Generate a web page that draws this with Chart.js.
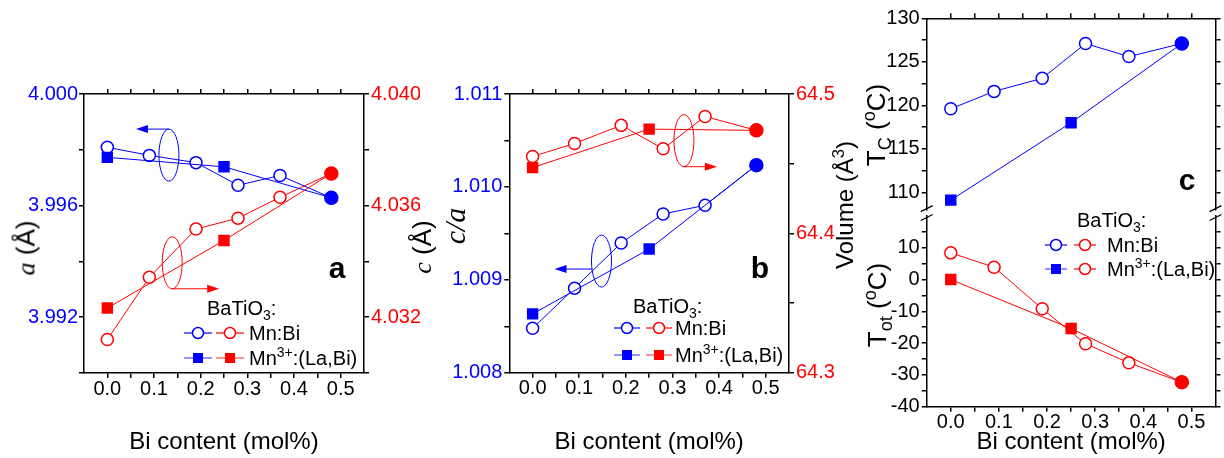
<!DOCTYPE html>
<html>
<head>
<meta charset="utf-8">
<title>BaTiO3: lattice parameters and transition temperatures vs Bi content</title>
<script src="https://cdn.jsdelivr.net/npm/chart.js@4.4.1/dist/chart.umd.min.js"></script>
<style>
  body { margin: 0; width: 1224px; height: 458px; background: #fff; position: relative; overflow: hidden;
         font-family: "Liberation Sans", Arial, sans-serif; color: #000; }
  canvas { position: absolute; top: 0; }
  .txt { position: absolute; white-space: nowrap; line-height: 1; }
  .rot { transform: translate(-50%, -50%) rotate(-90deg); }
  .ctr { transform: translate(0, -50%); }
  .it { font-family: "Liberation Serif", "Times New Roman", serif; font-style: italic; }
  .lbl { font-weight: bold; font-size: 30px; transform: translate(-50%, -50%); }
  .leg { font-size: 20px; }
  sub, sup { font-size: 70%; line-height: 0; }
</style>
</head>
<body>
<canvas id="cA" width="420" height="458" style="left:0"></canvas>
<canvas id="cB" width="420" height="458" style="left:420px"></canvas>
<canvas id="cC1" width="384" height="458" style="left:840px"></canvas>
<canvas id="cC2" width="384" height="458" style="left:840px"></canvas>

<!-- axis titles -->
<div class="txt rot" style="left:26px;top:248px;font-size:26px"><span class="it">a</span> (Å)</div>
<div class="txt rot" style="left:422px;top:247px;font-size:26px"><span class="it">c</span> (Å)</div>
<div class="txt rot it" style="left:455px;top:226px;font-size:30px">c/a</div>
<div class="txt rot" style="left:845px;top:205px;font-size:24px">Volume (Å<sup>3</sup>)</div>
<div class="txt rot" style="left:876px;top:125px;font-size:26px">T<sub>C</sub> (<sup>o</sup>C)</div>
<div class="txt rot" style="left:877px;top:305px;font-size:26px">T<sub>ot</sub> (<sup>o</sup>C)</div>

<!-- panel letters -->
<div class="txt lbl" style="left:337px;top:268px">a</div>
<div class="txt lbl" style="left:760px;top:268px">b</div>
<div class="txt lbl" style="left:1187px;top:180px">c</div>

<script>
const BLUE = "#0000ff";
const RED = "#ff0000";
const FONT = '"Liberation Sans", Arial, sans-serif';

// ── Data ────────────────────────────────────────────────────
const biMn = [0, 0.09, 0.19, 0.28, 0.37, 0.48];   // Mn:Bi compositions
const biLa = [0, 0.25, 0.48];                     // Mn3+:(La,Bi) compositions

const aMnBi = [3.99809, 3.99780, 3.99754, 3.99673, 3.99708, 3.99628];
const aLaBi = [3.99773, 3.99739, 3.99628];
const cMnBi = [4.03120, 4.03343, 4.03516, 4.03555, 4.03630, 4.03715];
const cLaBi = [4.03233, 4.03475, 4.03715];

const caMnBi = [1.008478, 1.008910, 1.009396, 1.009709, 1.009802, 1.010234];
const caLaBi = [1.008633, 1.009331, 1.010234];
const volMnBi = [64.4552, 64.4645, 64.4775, 64.4607, 64.4839, 64.4739];
const volLaBi = [64.4472, 64.4748, 64.4739];

const tcMnBi = [119.6, 121.6, 123.1, 127.1, 125.6, 127.1];
const tcLaBi = [109.1, 118.0, 127.1];
const totMnBi = [8.4, 3.9, -9.2, -20.2, -26.2, -32.3];
const totLaBi = [0, -15.4, -32.3];

// ── Ticks ───────────────────────────────────────────────────
const xTicks = [0, 0.05, 0.1, 0.15, 0.2, 0.25, 0.3, 0.35, 0.4, 0.45, 0.5];
const xMajor = [0, 0.1, 0.2, 0.3, 0.4, 0.5];
const xLabels = ["0.0", "0.1", "0.2", "0.3", "0.4", "0.5"];

const aLTicks = [3.990, 3.992, 3.994, 3.996, 3.998, 4.000];
const aLMajor = [3.992, 3.996, 4.000];
const aLLabels = ["3.992", "3.996", "4.000"];
const aRTicks = [4.030, 4.032, 4.034, 4.036, 4.038, 4.040];
const aRMajor = [4.032, 4.036, 4.040];
const aRLabels = ["4.032", "4.036", "4.040"];

const bLTicks = [1.008, 1.0085, 1.009, 1.0095, 1.010, 1.0105, 1.011];
const bLMajor = [1.008, 1.009, 1.010, 1.011];
const bLLabels = ["1.008", "1.009", "1.010", "1.011"];
const bRTicks = [64.30, 64.35, 64.40, 64.45, 64.50];
const bRMajor = [64.3, 64.4, 64.5];
const bRLabels = ["64.3", "64.4", "64.5"];

const tcTicks = [110, 112.5, 115, 117.5, 120, 122.5, 125, 127.5, 130];
const tcMajor = [110, 115, 120, 125, 130];
const tcLabels = ["110", "115", "120", "125", "130"];
const totTicks = [-40, -35, -30, -25, -20, -15, -10, -5, 0, 5, 10, 15];
const totMajor = [-40, -30, -20, -10, 0, 10];
const totLabels = ["-40", "-30", "-20", "-10", "0", "10"];

// ── Guide ellipses with arrows (data-space centres) ─────────
const annotA = [
  { x: 0.132, y: 3.99781, axis: "yL", color: BLUE, ax: 0, ay: -26, len: -33 },
  { x: 0.139, y: 4.03395, axis: "yR", color: RED, ax: 0, ay: 26, len: 47 },
];
const annotB = [
  { x: 0.3246, y: 64.4665, axis: "yR", color: RED, ax: 0, ay: 26, len: 33 },
  { x: 0.1478, y: 1.009202, axis: "yL", color: BLUE, ax: -9.5, ay: 8, len: -47 },
];

// ── Helpers ─────────────────────────────────────────────────
function pts(xs, ys) {
  return xs.map((x, i) => ({ x, y: ys[i] }));
}

function series(label, xs, ys, color, axis, filled) {
  return {
    label,
    data: pts(xs, ys),
    yAxisID: axis,
    showLine: true,
    borderColor: color,
    borderWidth: 1,
    pointBorderColor: color,
    pointBorderWidth: 1.5,
    pointBackgroundColor: filled ? color : "#fff",
    pointStyle: filled ? ["rect", "rect", "circle"] : "circle",
    pointRadius: filled ? [7, 7, 6.5] : 6,
  };
}

function labelFor(majors, labels) {
  return (v) => {
    const i = majors.findIndex((m) => Math.abs(m - v) < 1e-9);
    return i < 0 ? "" : labels[i];
  };
}

function axis(pos, min, max, ticks, majors, labels, color, size, pad) {
  return {
    type: "linear",
    position: pos,
    min,
    max,
    afterBuildTicks: (s) => { s.ticks = ticks.map((v) => ({ value: v })); },
    afterFit: (s) => { if (s.isHorizontal()) s.height = size; else s.width = size; },
    ticks: {
      autoSkip: false,
      maxRotation: 0,
      color,
      padding: pad,
      font: { family: FONT, size: 20, lineHeight: 1.2 },
      callback: labelFor(majors, labels),
    },
    grid: { drawOnChartArea: false, tickLength: 5, color: "#000", lineWidth: 1.5 },
    border: { color: "#000", width: 1.5 },
  };
}

function xAxis(pos, size, withLabels) {
  const a = axis(pos, -0.05, 0.55, xTicks, withLabels ? xMajor : [], xLabels, "#000", size, -1);
  if (withLabels) {
    a.title = {
      display: true,
      text: "Bi content (mol%)",
      color: "#000",
      font: { family: FONT, size: 24, lineHeight: 1.2 },
      padding: { top: 0, bottom: 1 },
    };
  }
  return a;
}

// ellipses, arrows and axis-break marks
function guides(items, breakEdge) {
  return {
    id: "guides",
    afterDatasetsDraw(chart) {
      const ctx = chart.ctx;
      items.forEach((it) => {
        const cx = chart.scales.x.getPixelForValue(it.x);
        const cy = chart.scales[it.axis].getPixelForValue(it.y);
        ctx.save();
        ctx.strokeStyle = it.color;
        ctx.fillStyle = it.color;
        ctx.lineWidth = 1;
        ctx.beginPath();
        ctx.ellipse(cx, cy, 10, 26, 0, 0, 2 * Math.PI);
        ctx.stroke();
        const sx = cx + it.ax, sy = cy + it.ay, ex = cx + it.len, dir = Math.sign(it.len);
        ctx.beginPath();
        ctx.moveTo(sx, sy);
        ctx.lineTo(ex - dir * 10, sy);
        ctx.stroke();
        ctx.beginPath();
        ctx.moveTo(ex, sy);
        ctx.lineTo(ex - dir * 12, sy - 4);
        ctx.lineTo(ex - dir * 12, sy + 4);
        ctx.closePath();
        ctx.fill();
        ctx.restore();
      });
      if (breakEdge) {
        const { left, right, top, bottom } = chart.chartArea;
        const y = breakEdge === "bottom" ? bottom - 1 : top + 1.5;
        ctx.save();
        ctx.strokeStyle = "#000";
        ctx.lineWidth = 1.3;
        [left, right].forEach((x) => {
          ctx.beginPath();
          ctx.moveTo(x - 6, y + 3);
          ctx.lineTo(x + 6, y - 3);
          ctx.stroke();
        });
        ctx.restore();
      }
    },
  };
}

function makeChart(id, datasets, scales, padding, items, breakEdge) {
  return new Chart(document.getElementById(id), {
    type: "scatter",
    data: { datasets },
    options: {
      responsive: false,
      animation: false,
      events: [],
      devicePixelRatio: 1,
      layout: { padding },
      scales,
      plugins: { legend: { display: false }, tooltip: { enabled: false } },
    },
    plugins: [guides(items, breakEdge)],
  });
}

// ── Panel a ─────────────────────────────────────────────────
makeChart("cA", [
  series("Mn3+:(La,Bi)", biLa, aLaBi, BLUE, "yL", true),
  series("Mn3+:(La,Bi)", biLa, cLaBi, RED, "yR", true),
  series("Mn:Bi", biMn, aMnBi, BLUE, "yL", false),
  series("Mn:Bi", biMn, cMnBi, RED, "yR", false),
], {
  x: xAxis("bottom", 85, true),
  xTop: xAxis("top", 94, false),
  yL: axis("left", 3.990, 4.000, aLTicks, aLMajor, aLLabels, BLUE, 84, 1),
  yR: axis("right", 4.030, 4.040, aRTicks, aRMajor, aRLabels, RED, 56, 2),
}, 0, annotA, null);

// ── Panel b ─────────────────────────────────────────────────
makeChart("cB", [
  series("Mn3+:(La,Bi)", biLa, caLaBi, BLUE, "yL", true),
  series("Mn3+:(La,Bi)", biLa, volLaBi, RED, "yR", true),
  series("Mn:Bi", biMn, caMnBi, BLUE, "yL", false),
  series("Mn:Bi", biMn, volMnBi, RED, "yR", false),
], {
  x: xAxis("bottom", 85.3, true),
  xTop: xAxis("top", 94, false),
  yL: axis("left", 1.008, 1.011, bLTicks, bLMajor, bLLabels, BLUE, 89.3, 2),
  yR: axis("right", 64.3, 64.5, bRTicks, bRMajor, bRLabels, RED, 51, 2),
}, 0, annotB, null);

// ── Panel c (broken axis: Tc on top, Tot below) ─────────────
makeChart("cC1", [
  series("Mn3+:(La,Bi)", biLa, tcLaBi, BLUE, "yL", true),
  series("Mn:Bi", biMn, tcMnBi, BLUE, "yL", false),
], {
  x: xAxis("top", 18.3, false),
  yL: axis("left", 108, 130, tcTicks, tcMajor, tcLabels, "#000", 86.7, 2),
  yR: axis("right", 108, 130, tcTicks, [], [], "#000", 3, 2),
}, { bottom: 248.3 }, [], "bottom");

makeChart("cC2", [
  series("Mn3+:(La,Bi)", biLa, totLaBi, RED, "yL", true),
  series("Mn:Bi", biMn, totMnBi, RED, "yL", false),
], {
  x: xAxis("bottom", 51.3, true),
  yL: axis("left", -40, 20, totTicks, totMajor, totLabels, "#000", 86.7, 2),
  yR: axis("right", -40, 20, totTicks, [], [], "#000", 3, 2),
}, { top: 216 }, [], "top");

// ── Legends ─────────────────────────────────────────────────
const OPEN_C = (color) => ({ shape: "circle", color, fill: false });
const FILL_R = (color) => ({ shape: "rect", color, fill: true });

const legendRowsAB = [
  { text: "Mn:Bi", marks: [OPEN_C(BLUE), OPEN_C(RED)] },
  { text: "Mn<sup>3+</sup>:(La,Bi)", marks: [FILL_R(BLUE), FILL_R(RED)] },
];
const legendRowsC = [
  { text: "Mn:Bi", marks: [OPEN_C(BLUE), OPEN_C(RED)] },
  { text: "Mn<sup>3+</sup>:(La,Bi)", marks: [FILL_R(BLUE), OPEN_C(RED)] },
];

function addDiv(cls, left, top, html) {
  const d = document.createElement("div");
  d.className = cls;
  d.style.left = left + "px";
  d.style.top = top + "px";
  d.innerHTML = html;
  document.body.appendChild(d);
  return d;
}

function legend(L) {
  addDiv("txt leg ctr", L.headX, L.headY, "BaTiO<sub>3</sub>:");
  L.rows.forEach((row, i) => {
    const y = L.rowY[i];
    const x0 = L.cx[0] - L.half - 1;
    const w = L.cx[1] + L.half + 1 - x0;
    let svg = `<svg width="${w}" height="16" style="position:absolute;left:${x0}px;top:${y - 8}px">`;
    row.marks.forEach((m, j) => {
      const c = L.cx[j] - x0;
      svg += `<line x1="${c - L.half}" y1="8" x2="${c + L.half}" y2="8" stroke="${m.color}" stroke-width="1.2" opacity="${m.fill ? 0.7 : 1}"/>`;
      if (m.shape === "circle") {
        svg += `<circle cx="${c}" cy="8" r="5.5" fill="${m.fill ? m.color : "#fff"}" stroke="${m.color}" stroke-width="1.5"/>`;
      } else {
        svg += `<rect x="${c - 5}" y="3" width="10" height="10" fill="${m.color}"/>`;
      }
    });
    svg += "</svg>";
    document.body.insertAdjacentHTML("beforeend", svg);
    addDiv("txt leg ctr", L.textX, y, row.text);
  });
}

legend({ headX: 207, headY: 308, rowY: [333, 358], cx: [198, 230], half: 14, textX: 249, rows: legendRowsAB });
legend({ headX: 633, headY: 306, rowY: [328, 355], cx: [627, 659], half: 13, textX: 675, rows: legendRowsAB });
legend({ headX: 1077, headY: 220, rowY: [245, 269], cx: [1056, 1085], half: 11, textX: 1107, rows: legendRowsC });
</script>
</body>
</html>
